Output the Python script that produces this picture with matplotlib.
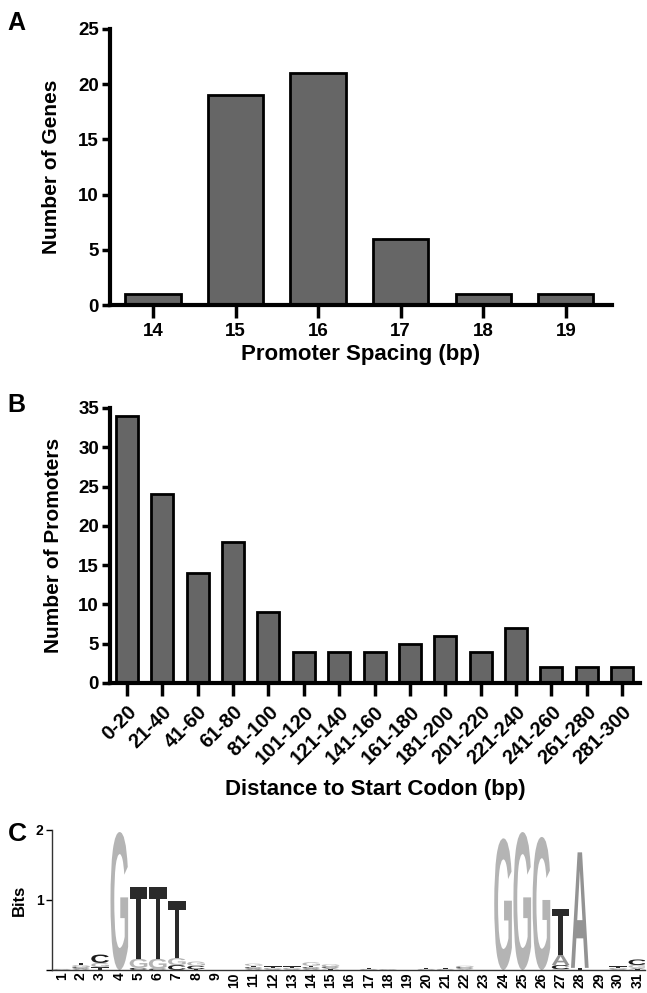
import matplotlib
matplotlib.use('Agg')
import matplotlib.pyplot as plt
from matplotlib.textpath import TextPath
from matplotlib.patches import PathPatch
from matplotlib.font_manager import FontProperties
from matplotlib.transforms import Affine2D

plt.rcParams['font.family'] = ['Liberation Sans', 'DejaVu Sans']
plt.rcParams['font.weight'] = 'bold'

# Panel A data
spacing = [14, 15, 16, 17, 18, 19]
genes = [1, 19, 21, 6, 1, 1]

# Panel B data
distance_bins = ['0-20', '21-40', '41-60', '61-80', '81-100', '101-120', '121-140',
                 '141-160', '161-180', '181-200', '201-220', '221-240', '241-260',
                 '261-280', '281-300']
promoters = [34, 24, 14, 18, 9, 4, 4, 4, 5, 6, 4, 7, 2, 2, 2]

# Panel C data (sequence logo, bits per letter at each position)
positions = list(range(1, 32))
bits_A = [0.005, 0.02, 0.0, 0, 0.0, 0.0, 0.0, 0.0, 0, 0, 0.02, 0.01, 0.01, 0.02, 0.02, 0,
          0.005, 0.005, 0, 0.005, 0.005, 0.01, 0, 0, 0, 0, 0.15, 1.65, 0, 0.01, 0.02]
bits_C = [0.005, 0.02, 0.12, 0, 0.03, 0.02, 0.07, 0.05, 0, 0, 0.02, 0.01, 0.01, 0.02, 0.02, 0,
          0.005, 0.003, 0, 0.005, 0.005, 0.02, 0, 0, 0, 0, 0.06, 0, 0, 0.01, 0.08]
bits_G = [0.005, 0.03, 0.06, 1.97, 0.13, 0.14, 0.1, 0.06, 0, 0, 0.03, 0.01, 0.01, 0.05, 0.03, 0,
          0.005, 0.003, 0, 0.005, 0.005, 0.02, 0, 1.88, 1.97, 1.9, 0.01, 0, 0, 0.01, 0.04]
bits_T = [0.005, 0.03, 0.04, 0, 1.02, 1.02, 0.82, 0.01, 0, 0, 0.02, 0.02, 0.02, 0.02, 0.01, 0,
          0.01, 0.005, 0, 0.01, 0.01, 0.01, 0, 0, 0, 0, 0.65, 0.03, 0, 0.02, 0.01]
letter_colors = {'A': '#939393', 'C': '#1c1c1c', 'G': '#b4b4b4', 'T': '#2a2a2a'}

bar_color = '#666666'

fig = plt.figure(figsize=(6.47, 9.93), dpi=100)


def style_bar_axes(ax):
    for s in ['top', 'right']:
        ax.spines[s].set_visible(False)
    for s in ['left', 'bottom']:
        ax.spines[s].set_linewidth(3)
    ax.tick_params(axis='y', length=6, width=2.5, labelsize=13.5, pad=2)
    ax.tick_params(axis='x', length=9, width=2.5, labelsize=13.5, pad=4)


# ---- Panel A ----
axA = fig.add_axes([0.170, 0.6928, 0.776, 0.278])
axA.bar(spacing, genes, width=0.67, color=bar_color, edgecolor='black', linewidth=2)
axA.set_xlim(14 - 0.52, 19 + 0.56)
axA.set_ylim(0, 25)
axA.set_yticks([0, 5, 10, 15, 20, 25])
axA.set_xticks(spacing)
style_bar_axes(axA)
axA.set_xlabel('Promoter Spacing (bp)', fontsize=16, fontweight='bold', labelpad=3)
axA.set_ylabel('Number of Genes', fontsize=15, fontweight='bold', labelpad=12)
fig.text(0.012, 0.977, 'A', fontsize=18, fontweight='bold', va='center')

# ---- Panel B ----
axB = fig.add_axes([0.170, 0.3122, 0.819, 0.277])
xb = list(range(len(distance_bins)))
axB.bar(xb, promoters, width=0.62, color=bar_color, edgecolor='black', linewidth=2)
axB.set_xlim(-0.48, len(distance_bins) - 0.5)
axB.set_ylim(0, 35)
axB.set_yticks([0, 5, 10, 15, 20, 25, 30, 35])
axB.set_xticks(xb)
axB.set_xticklabels(distance_bins, rotation=45, ha='right', rotation_mode='anchor')
style_bar_axes(axB)
axB.tick_params(axis='x', labelsize=14.5, pad=5)
axB.set_xlabel('Distance to Start Codon (bp)', fontsize=16, fontweight='bold', labelpad=8)
axB.set_ylabel('Number of Promoters', fontsize=15, fontweight='bold', labelpad=11)
fig.text(0.012, 0.592, 'B', fontsize=18, fontweight='bold', va='center')

# ---- Panel C: sequence logo ----
axC = fig.add_axes([0.080, 0.0232, 0.917, 0.141])
logo_font = FontProperties(family='Liberation Sans', weight='bold')


def draw_letter(ax, letter, x, y, w, h, color):
    tp = TextPath((0, 0), letter, size=1, prop=logo_font)
    bb = tp.get_extents()
    tr = (Affine2D().translate(-bb.x0, -bb.y0)
          .scale(w / bb.width, h / bb.height)
          .translate(x - w / 2, y))
    ax.add_patch(PathPatch(tr.transform_path(tp), facecolor=color,
                           edgecolor='none'))


for i, pos in enumerate(positions):
    stack = [('A', bits_A[i]), ('C', bits_C[i]), ('G', bits_G[i]), ('T', bits_T[i])]
    stack = sorted([s for s in stack if s[1] > 0], key=lambda s: s[1])
    base = 0.0
    for letter, h in stack:
        draw_letter(axC, letter, pos, base, 0.92, h, letter_colors[letter])
        base += h

axC.set_xlim(0.48, 31.4)
axC.set_ylim(0, 2)
for s in ['top', 'right']:
    axC.spines[s].set_visible(False)
for s in ['left', 'bottom']:
    axC.spines[s].set_linewidth(1)
    axC.spines[s].set_color('#333333')
axC.set_yticks([0, 1, 2])
axC.set_yticklabels(['', '1', '2'])
axC.tick_params(axis='y', length=4, width=1, labelsize=10, pad=2)
axC.set_xticks(positions)
axC.set_xticklabels([str(p) for p in positions], rotation=90)
axC.tick_params(axis='x', length=0, labelsize=10, pad=2)
axC.set_ylabel('Bits', fontsize=12, fontweight='bold', labelpad=6)
fig.text(0.012, 0.160, 'C', fontsize=19, fontweight='bold', va='center')

fig.savefig('out.png', dpi=100)
